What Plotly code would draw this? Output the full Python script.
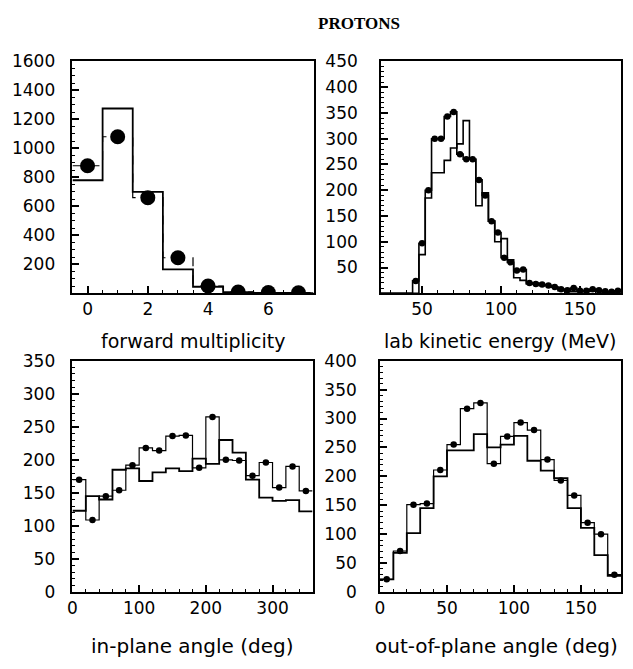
import plotly.graph_objects as go

# forward multiplicity (top left), unit bins
mult_bins = [0, 1, 2, 3, 4, 5, 6, 7]
mult_data = [880, 1080, 660, 245, 50, 8, 5, 4]
mult_model = [780, 1275, 700, 165, 45, 8, 3, 1]

# lab kinetic energy (top right), 4 MeV bins
energy_bins = [26, 30, 34, 38, 42, 46, 50, 54, 58, 62, 66, 70, 74, 78, 82, 86, 90, 94, 98,
               102, 106, 110, 114, 118, 122, 126, 130, 134, 138, 142, 146, 150, 154, 158,
               162, 166, 170, 174]
energy_data = [0, 0, 0, 0, 0, 24, 97, 200, 300, 300, 343, 352, 270, 260, 260, 220, 190, 140, 118,
               69, 60, 44, 46, 20, 18, 17, 15, 12, 8, 6, 10, 5, 5, 8, 6, 4, 3, 5]
energy_model = [0, 0, 0, 0, 0, 0, 75, 185, 234, 234, 258, 282, 290, 335, 260, 170, 195, 140, 100,
                106, 65, 30, 25, 18, 20, 15, 15, 12, 5, 5, 3, 3, 3, 4, 3, 2, 2, 3]

# in-plane angle (bottom left), 20 deg bins
inplane_bins = [10, 30, 50, 70, 90, 110, 130, 150, 170, 190, 210, 230, 250, 270, 290, 310, 330, 350]
inplane_data = [170, 109, 145, 154, 192, 218, 214, 236, 237, 188, 265, 200, 199, 176, 196, 158, 190, 153]
inplane_model = [123, 145, 140, 185, 187, 168, 181, 187, 183, 202, 194, 230, 211, 170, 143, 138, 139, 122]

# out-of-plane angle (bottom right), 10 deg bins
outplane_bins = [5, 15, 25, 35, 45, 55, 65, 75, 85, 95, 105, 115, 125, 135, 145, 155, 165, 175]
outplane_data = [22, 71, 151, 153, 211, 255, 317, 327, 222, 269, 293, 280, 229, 193, 167, 120, 100, 30]
outplane_model = [22, 68, 102, 145, 200, 245, 245, 273, 250, 255, 270, 227, 210, 197, 145, 111, 64, 28]

FONT = 'DejaVu Sans'
W, H = 633, 669


def add_hist(fig, centers, values, width, ax, lw, dash='solid'):
    edges = [c - width / 2 for c in centers] + [centers[-1] + width / 2]
    ys = list(values) + [values[-1]]
    fig.add_trace(go.Scatter(
        x=edges, y=ys, mode='lines',
        line=dict(shape='hv', color='black', width=lw, dash=dash),
        xaxis='x' + ax, yaxis='y' + ax, showlegend=False, hoverinfo='skip'
    ))


def add_points(fig, centers, values, ax, size):
    # empty bins get no marker
    pts = [(c, v) for c, v in zip(centers, values) if v > 0]
    fig.add_trace(go.Scatter(
        x=[p[0] for p in pts], y=[p[1] for p in pts], mode='markers',
        marker=dict(color='black', size=size),
        xaxis='x' + ax, yaxis='y' + ax, showlegend=False
    ))


fig = go.Figure()

add_hist(fig, mult_bins, mult_model, 1, '', 1.8)
add_hist(fig, mult_bins, mult_data, 1, '', 1.2, 'dash')
add_points(fig, mult_bins, mult_data, '', 15)

add_hist(fig, energy_bins, energy_model, 4, '2', 1.6)
add_hist(fig, energy_bins, energy_data, 4, '2', 1.6)
add_points(fig, energy_bins, energy_data, '2', 6.5)

add_hist(fig, inplane_bins, inplane_model, 20, '3', 1.8)
add_hist(fig, inplane_bins, inplane_data, 20, '3', 1.2)
add_points(fig, inplane_bins, inplane_data, '3', 6.5)

add_hist(fig, outplane_bins, outplane_model, 10, '4', 1.8)
add_hist(fig, outplane_bins, outplane_data, 10, '4', 1.2)
add_points(fig, outplane_bins, outplane_data, '4', 6.5)


def axis(domain, rng, tickvals, minor_dtick, anchor, standoff=0):
    return dict(
        domain=domain, range=rng, anchor=anchor,
        tickmode='array', tickvals=tickvals,
        showline=True, linecolor='black', linewidth=1.6, mirror=True,
        ticks='inside', ticklen=7, tickwidth=1.5, tickcolor='black',
        minor=dict(ticks='inside', ticklen=3, tickwidth=1, tickcolor='black',
                   tickmode='linear', tick0=0, dtick=minor_dtick),
        showgrid=False, zeroline=False, ticklabelstandoff=standoff,
        tickfont=dict(family=FONT, size=17, color='black'),
    )


def px_x(a, b):
    return [a / W, b / W]


def px_y(top, bottom):
    return [1 - bottom / H, 1 - top / H]


fig.update_layout(
    width=W, height=H,
    margin=dict(l=0, r=0, t=0, b=0),
    paper_bgcolor='white', plot_bgcolor='white',
    xaxis=axis(px_x(68, 311), [-0.5, 7.5], [0, 2, 4, 6], 0.5, 'y'),
    yaxis=axis(px_y(53, 292), [0, 1600], [200, 400, 600, 800, 1000, 1200, 1400, 1600], 50, 'x', 12),
    xaxis2=axis(px_x(379, 621), [24, 176], [50, 100, 150], 10, 'y2'),
    yaxis2=axis(px_y(53, 292), [0, 450], [50, 100, 150, 200, 250, 300, 350, 400, 450], 10, 'x2', 18),
    xaxis3=axis(px_x(68, 310), [0, 360], [0, 100, 200, 300], 20, 'y3'),
    yaxis3=axis(px_y(361.5, 600), [0, 350], [0, 50, 100, 150, 200, 250, 300, 350], 10, 'x3', 12),
    xaxis4=axis(px_x(378, 621), [0, 180], [0, 50, 100, 150], 10, 'y4'),
    yaxis4=axis(px_y(361.5, 600), [0, 400], [0, 50, 100, 150, 200, 250, 300, 350, 400], 10, 'x4', 18),
)

labels = [
    ('<b>PROTONS</b>', 357, 14, 'Liberation Serif', 17),
    ('forward multiplicity', 190, 341, FONT, 19),
    ('lab kinetic energy (MeV)', 499, 341, FONT, 19),
    ('in-plane angle (deg)', 188, 656, FONT, 20),
    ('out-of-plane angle (deg)', 495, 656, FONT, 20),
]
for text, x, y, fam, size in labels:
    fig.add_annotation(
        text=text, x=x / W, y=1 - y / H, xref='paper', yref='paper',
        showarrow=False, xanchor='center', yanchor='middle',
        font=dict(family=fam, size=size, color='black')
    )

fig.write_html('out.html', config={'displayModeBar': False},
               post_script="document.body.style.margin='0px';")
